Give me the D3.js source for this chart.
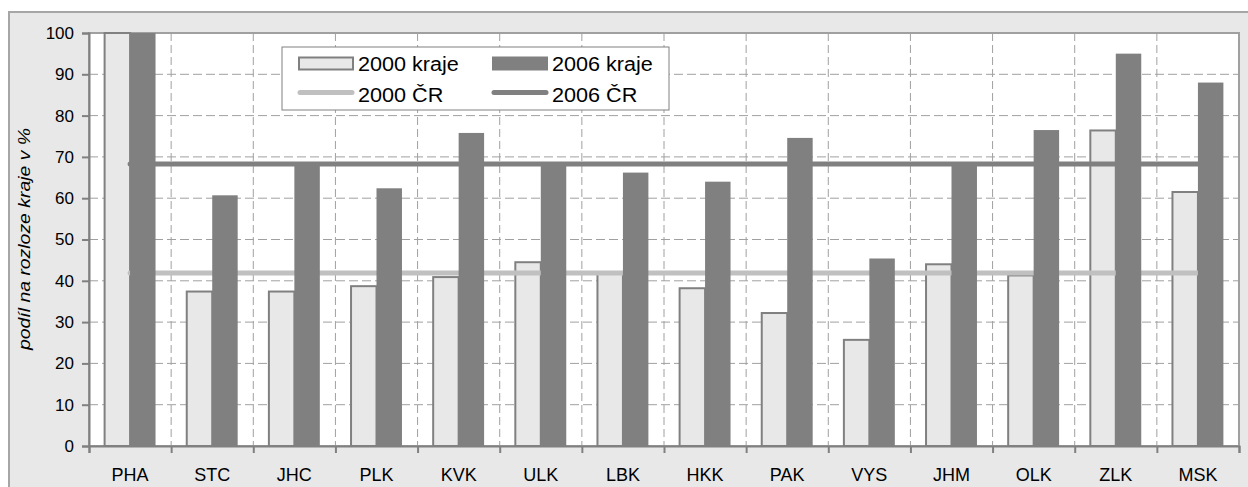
<!DOCTYPE html>
<html>
<head>
<meta charset="utf-8">
<script src="https://cdn.jsdelivr.net/npm/d3@7"></script>
<style>
    body { margin: 0; background: #fff; }
    text { font-family: "Liberation Sans", Arial, sans-serif; fill: #000; }
</style>
</head>
<body>
<div id="chart"></div>
<script>
// data
const categories = ["PHA", "STC", "JHC", "PLK", "KVK", "ULK", "LBK", "HKK", "PAK", "VYS", "JHM", "OLK", "ZLK", "MSK"];
const kraje2000 = [100, 37.4, 37.4, 38.7, 40.9, 44.5, 42.0, 38.2, 32.2, 25.7, 44.0, 41.3, 76.4, 61.5];
const kraje2006 = [100, 60.7, 67.8, 62.4, 75.8, 67.9, 66.2, 64.0, 74.6, 45.4, 67.9, 76.5, 95.0, 88.0];
const cr2000 = [41.9, 41.9, 41.9, 41.9, 41.9, 41.9, 41.9, 41.9, 41.9, 41.9, 41.9, 41.9, 41.9, 41.9];
const cr2006 = [68.3, 68.3, 68.3, 68.3, 68.3, 68.3, 68.3, 68.3, 68.3, 68.3, 68.3, 68.3, 68.3, 68.3];
const yTicks = [0, 10, 20, 30, 40, 50, 60, 70, 80, 90, 100];
const legendItems = ["2000 kraje", "2006 kraje", "2000 ČR", "2006 ČR"];

const W = 1248, H = 487;
const plot = { left: 89, right: 1239, top: 33, bottom: 446 };

const svg = d3.select("#chart").append("svg")
    .attr("width", W)
    .attr("height", H);

// vnější rámeček grafu
svg.append("rect")
    .attr("x", 9).attr("y", 12)
    .attr("width", 1260).attr("height", 500)
    .attr("fill", "#e8e8e8")
    .attr("stroke", "#a6a6a6")
    .attr("stroke-width", 2);

svg.append("rect")
    .attr("x", plot.left).attr("y", plot.top)
    .attr("width", plot.right - plot.left).attr("height", plot.bottom - plot.top)
    .attr("fill", "#fff")
    .attr("stroke", "#a0a0a0")
    .attr("stroke-width", 2);

const x = d3.scaleBand()
    .domain(categories)
    .range([plot.left, plot.right]);

const xEdge = d3.scaleLinear()
    .domain([0, categories.length])
    .range([plot.left, plot.right]);

const y = d3.scaleLinear()
    .domain([0, 100])
    .range([plot.bottom, plot.top]);

const barW = x.bandwidth() * 0.31;

// mřížka
svg.append("g").selectAll("line")
    .data(yTicks.filter(d => d > 0 && d < 100))
    .enter().append("line")
    .attr("x1", plot.left).attr("x2", plot.right)
    .attr("y1", d => y(d)).attr("y2", d => y(d))
    .attr("stroke", "#a0a0a0")
    .attr("stroke-dasharray", "9,4");

svg.append("g").selectAll("line")
    .data(d3.range(1, categories.length))
    .enter().append("line")
    .attr("x1", d => xEdge(d)).attr("x2", d => xEdge(d))
    .attr("y1", plot.top).attr("y2", plot.bottom)
    .attr("stroke", "#a0a0a0")
    .attr("stroke-dasharray", "8,4");

const cx = d => x(d) + x.bandwidth() / 2;

// sloupce 2000
svg.append("g").selectAll("rect")
    .data(categories)
    .enter().append("rect")
    .attr("x", d => cx(d) - barW)
    .attr("y", (d, i) => y(kraje2000[i]))
    .attr("width", barW)
    .attr("height", (d, i) => y(0) - y(kraje2000[i]))
    .attr("fill", "#e8e8e8")
    .attr("stroke", "#808080")
    .attr("stroke-width", 2);

const line = d3.line()
    .x((d, i) => cx(categories[i]))
    .y(d => y(d));

svg.append("path")
    .datum(cr2000)
    .attr("d", line)
    .attr("fill", "none")
    .attr("stroke", "#c0c0c0")
    .attr("stroke-width", 5)
    .attr("stroke-linecap", "round");

// sloupce 2006
svg.append("g").selectAll("rect")
    .data(categories)
    .enter().append("rect")
    .attr("x", d => cx(d))
    .attr("y", (d, i) => y(kraje2006[i]))
    .attr("width", barW)
    .attr("height", (d, i) => y(0) - y(kraje2006[i]))
    .attr("fill", "#808080");

svg.append("path")
    .datum(cr2006)
    .attr("d", line)
    .attr("fill", "none")
    .attr("stroke", "#808080")
    .attr("stroke-width", 5)
    .attr("stroke-linecap", "round");

// osy
const yAxis = svg.append("g")
    .attr("transform", `translate(${plot.left},0)`)
    .call(d3.axisLeft(y).tickValues(yTicks).tickSize(7).tickPadding(8));
yAxis.selectAll("text").style("font-size", "17px").attr("font-family", null);

svg.append("g")
    .attr("transform", `translate(0,${plot.bottom})`)
    .call(d3.axisBottom(xEdge).tickValues(d3.range(categories.length + 1)).tickSize(7).tickFormat(""));

const xAxis = svg.append("g")
    .attr("transform", `translate(0,${plot.bottom})`)
    .call(d3.axisBottom(x).tickSize(0).tickPadding(22));
xAxis.selectAll("text").style("font-size", "18px").attr("font-family", null);
xAxis.select(".domain").remove();

svg.selectAll(".domain, .tick line")
    .attr("stroke", "#808080")
    .attr("stroke-width", 2);

// popisek osy y
svg.append("text")
    .attr("transform", "translate(30,239) rotate(-90)")
    .attr("text-anchor", "middle")
    .style("font-size", "16px")
    .style("font-style", "italic")
    .attr("textLength", 222)
    .attr("lengthAdjust", "spacingAndGlyphs")
    .text("podíl na rozloze kraje v %");

// legenda
const legend = svg.append("g");
legend.append("rect")
    .attr("x", 282).attr("y", 47)
    .attr("width", 387).attr("height", 63)
    .attr("fill", "#fff")
    .attr("stroke", "#808080")
    .attr("stroke-width", 1);

const legX = [298, 492];
const legY = [63.5, 92.5];

legend.append("rect")
    .attr("x", legX[0] + 1).attr("y", legY[0] - 6)
    .attr("width", 54).attr("height", 12)
    .attr("fill", "#e8e8e8")
    .attr("stroke", "#808080")
    .attr("stroke-width", 2);

legend.append("rect")
    .attr("x", legX[1]).attr("y", legY[0] - 7)
    .attr("width", 56).attr("height", 14)
    .attr("fill", "#808080");

legend.append("line")
    .attr("x1", legX[0] + 2).attr("x2", legX[0] + 54)
    .attr("y1", legY[1]).attr("y2", legY[1])
    .attr("stroke", "#c0c0c0")
    .attr("stroke-width", 5)
    .attr("stroke-linecap", "round");

legend.append("line")
    .attr("x1", legX[1] + 2).attr("x2", legX[1] + 54)
    .attr("y1", legY[1]).attr("y2", legY[1])
    .attr("stroke", "#808080")
    .attr("stroke-width", 5)
    .attr("stroke-linecap", "round");

legend.selectAll("text.leg")
    .data(legendItems)
    .enter().append("text")
    .attr("class", "leg")
    .attr("x", (d, i) => legX[i % 2] + 60)
    .attr("y", (d, i) => (i < 2 ? 71 : 102))
    .style("font-size", "20px")
    .text(d => d)
    .attr("textLength", function() { return this.getComputedTextLength() * 1.08; })
    .attr("lengthAdjust", "spacingAndGlyphs");
</script>
</body>
</html>
